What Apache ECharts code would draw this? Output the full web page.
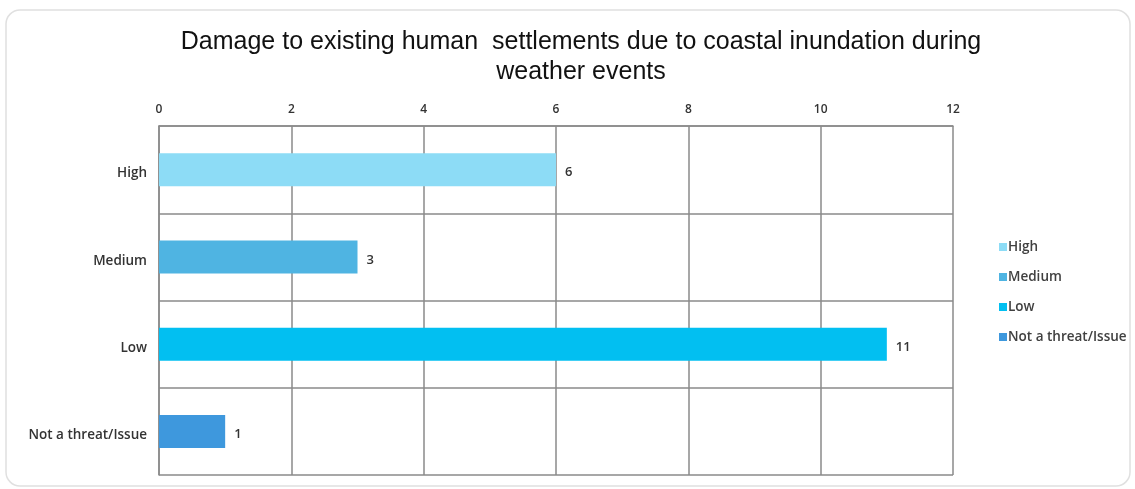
<!DOCTYPE html>
<html>
<head>
<meta charset="utf-8">
<script src="https://cdn.jsdelivr.net/npm/echarts@6/dist/echarts.min.js"></script>
<style>
  html, body { margin: 0; padding: 0; background: #fff; }
  #chart { width: 1135px; height: 489px; }
</style>
</head>
<body>
<div id="chart"></div>
<script>
// Survey responses per rating level
const categories = ['High', 'Medium', 'Low', 'Not a threat/Issue'];
const values = [6, 3, 11, 1];
const colors = ['#8ddcf6', '#4fb4e2', '#02bff1', '#3e98dd'];
const xTicks = [0, 2, 4, 6, 8, 10, 12];

const series = categories.map((name, i) => ({
  name: name,
  type: 'bar',
  stack: 'all',
  barWidth: 33,
  itemStyle: { color: colors[i] },
  label: {
    show: true,
    position: 'right',
    distance: 9,
    offset: [0, 3],
    color: '#333',
    fontFamily: 'Open Sans',
    fontSize: 13,
    fontWeight: 600
  },
  data: categories.map((c, j) => (j === i ? values[i] : '-'))
}));

const chart = echarts.init(document.getElementById('chart'));
chart.setOption({
  animation: false,
  backgroundColor: '#ffffff',
  graphic: [{
    type: 'rect',
    shape: { x: 6, y: 10, width: 1124, height: 476, r: 14 },
    style: { fill: 'none', stroke: '#e0e0e0', lineWidth: 1.5 },
    z: -1
  }],
  title: {
    text: 'Damage to existing human  settlements due to coastal inundation during\nweather events',
    left: 576,
    textAlign: 'center',
    top: 22,
    textStyle: {
      fontFamily: 'Liberation Sans',
      fontWeight: 'normal',
      fontSize: 25,
      lineHeight: 30,
      color: '#111'
    }
  },
  legend: {
    orient: 'vertical',
    left: 994,
    top: 233,
    itemWidth: 8,
    itemHeight: 8,
    itemGap: 12,
    icon: 'rect',
    data: categories,
    textStyle: {
      fontFamily: 'Open Sans',
      fontSize: 13.5,
      fontWeight: 600,
      color: '#404040',
      lineHeight: 18,
      padding: [0, 0, 0, -4]
    }
  },
  grid: { left: 159, right: 182, top: 126, bottom: 14 },
  xAxis: {
    type: 'value',
    position: 'top',
    min: 0,
    max: 12,
    interval: 2,
    axisLine: { show: true, lineStyle: { color: '#8a8a8a', width: 1.5 } },
    axisTick: { show: false },
    axisLabel: {
      margin: 10,
      color: '#333',
      fontFamily: 'Open Sans',
      fontSize: 12,
      fontWeight: 600,
      formatter: v => (xTicks.includes(v) ? String(v) : '')
    },
    splitLine: { show: true, lineStyle: { color: '#8a8a8a', width: 1.5 } }
  },
  yAxis: {
    type: 'category',
    inverse: true,
    data: categories,
    axisLine: { show: true, lineStyle: { color: '#8a8a8a', width: 1.5 } },
    axisTick: { show: false },
    axisLabel: {
      margin: 12,
      color: '#333',
      fontFamily: 'Open Sans',
      fontSize: 13.5,
      fontWeight: 600,
      verticalAlign: 'top',
      lineHeight: 18,
      padding: [-5, 0, 0, 0]
    },
    splitLine: { show: true, lineStyle: { color: '#8a8a8a', width: 1.5 } }
  },
  series: series
});
</script>
</body>
</html>
